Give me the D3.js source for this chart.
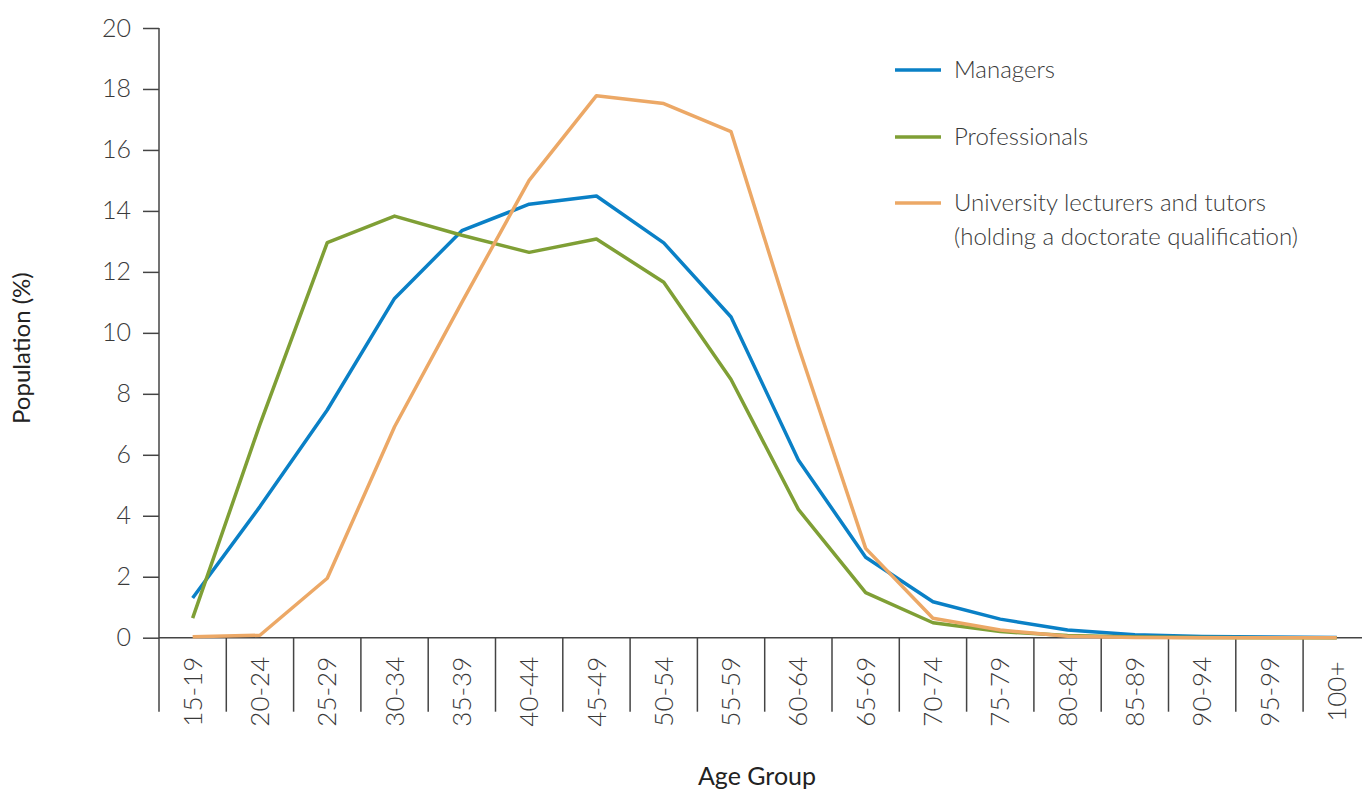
<!DOCTYPE html>
<meta charset="utf-8">
<style>
html, body {
  margin: 0;
  background: #fff;
}
svg {
  display: block;
  font-family: Lato, "Open Sans", sans-serif;
}
.tick text, .legend text, .cat-label {
  font-weight: 300;
  fill: #3a3a3a;
}
.title {
  fill: #222;
  font-weight: 400;
}
</style>
<svg width="1362" height="789"></svg>
<script src="https://cdn.jsdelivr.net/npm/d3@7"></script>
<script>
const ageGroups = ['15-19', '20-24', '25-29', '30-34', '35-39', '40-44', '45-49', '50-54', '55-59',
  '60-64', '65-69', '70-74', '75-79', '80-84', '85-89', '90-94', '95-99', '100+'];
const managers = [1.3, 4.3, 7.47, 11.13, 13.35, 14.22, 14.49, 12.95, 10.52, 5.83, 2.64, 1.18, 0.61, 0.25, 0.1, 0.04, 0.02, 0.01];
const professionals = [0.64, 7.0, 12.96, 13.83, 13.2, 12.64, 13.08, 11.66, 8.47, 4.21, 1.48, 0.49, 0.2, 0.07, 0.02, 0.01, 0, 0];
const lecturers = [0.03, 0.08, 1.95, 6.92, 11.0, 15.0, 17.78, 17.52, 16.6, 9.55, 2.93, 0.64, 0.25, 0.05, 0.01, 0, 0, 0];
const yTicks = [0, 2, 4, 6, 8, 10, 12, 14, 16, 18, 20];

const series = [
  { name: ['Managers'], values: managers, color: '#0a80c6' },
  { name: ['Professionals'], values: professionals, color: '#7f9f35' },
  { name: ['University lecturers and tutors', '(holding a doctorate qualification)'], values: lecturers, color: '#eca866' }
];

const svg = d3.select('svg');
const plotLeft = 159, plotTop = 28, plotBottom = 637.7, bandW = 67.3;
const axisColor = '#444';

const x = d3.scaleBand()
  .domain(ageGroups)
  .range([plotLeft, plotLeft + bandW * ageGroups.length]);
const y = d3.scaleLinear()
  .domain([0, 20])
  .range([plotBottom, plotTop]);
const cx = d => x(d) + x.bandwidth() / 2;

// y axis
const yAxis = svg.append('g')
  .attr('transform', `translate(${plotLeft},0)`)
  .call(d3.axisLeft(y).tickValues(yTicks).tickSize(16).tickPadding(12))
  .attr('font-family', null)
  .attr('font-size', null);
yAxis.select('.domain').remove();
yAxis.selectAll('.tick line').attr('stroke', axisColor).attr('stroke-width', 1.5);
yAxis.selectAll('.tick text').attr('font-size', 25);

svg.append('line')
  .attr('x1', plotLeft).attr('x2', plotLeft)
  .attr('y1', y(20)).attr('y2', plotBottom + 74)
  .attr('stroke', axisColor).attr('stroke-width', 1.5);

// x axis baseline
svg.append('line')
  .attr('x1', plotLeft).attr('x2', 1362)
  .attr('y1', plotBottom).attr('y2', plotBottom)
  .attr('stroke', axisColor).attr('stroke-width', 1.5);

// category separators
svg.append('g')
  .selectAll('line')
  .data(ageGroups.slice(1))
  .join('line')
  .attr('x1', d => x(d)).attr('x2', d => x(d))
  .attr('y1', plotBottom).attr('y2', plotBottom + 74)
  .attr('stroke', axisColor).attr('stroke-width', 1.5);

// category labels
svg.append('g')
  .selectAll('text')
  .data(ageGroups)
  .join('text')
  .attr('class', 'cat-label')
  .attr('transform', d => `translate(${cx(d)},${plotBottom + 54}) rotate(-90)`)
  .attr('text-anchor', 'middle')
  .attr('dy', '0.35em')
  .attr('font-size', 26)
  .text(d => d);

// lines
const line = d3.line()
  .x((d, i) => cx(ageGroups[i]))
  .y(d => y(d));

svg.append('g')
  .selectAll('path')
  .data(series)
  .join('path')
  .attr('fill', 'none')
  .attr('stroke', d => d.color)
  .attr('stroke-width', 3.5)
  .attr('stroke-linejoin', 'round')
  .attr('d', d => line(d.values));

// legend
const legendY = [70, 137, 203];
const legend = svg.append('g').attr('class', 'legend');
series.forEach((s, i) => {
  legend.append('line')
    .attr('x1', 895).attr('x2', 941)
    .attr('y1', legendY[i]).attr('y2', legendY[i])
    .attr('stroke', s.color).attr('stroke-width', 3.5);
  const t = legend.append('text')
    .attr('x', 954).attr('y', legendY[i])
    .attr('font-size', 24);
  s.name.forEach((n, j) => {
    t.append('tspan').attr('x', 954).attr('dy', j === 0 ? '0.35em' : '1.42em').text(n);
  });
});

// axis titles
svg.append('text')
  .attr('class', 'title')
  .attr('transform', `translate(22,${y(9.5)}) rotate(-90)`)
  .attr('text-anchor', 'middle')
  .attr('dy', '0.35em')
  .attr('font-size', 24)
  .text('Population (%)');

svg.append('text')
  .attr('class', 'title')
  .attr('x', 757).attr('y', 785)
  .attr('text-anchor', 'middle')
  .attr('font-size', 25)
  .text('Age Group');
</script>
